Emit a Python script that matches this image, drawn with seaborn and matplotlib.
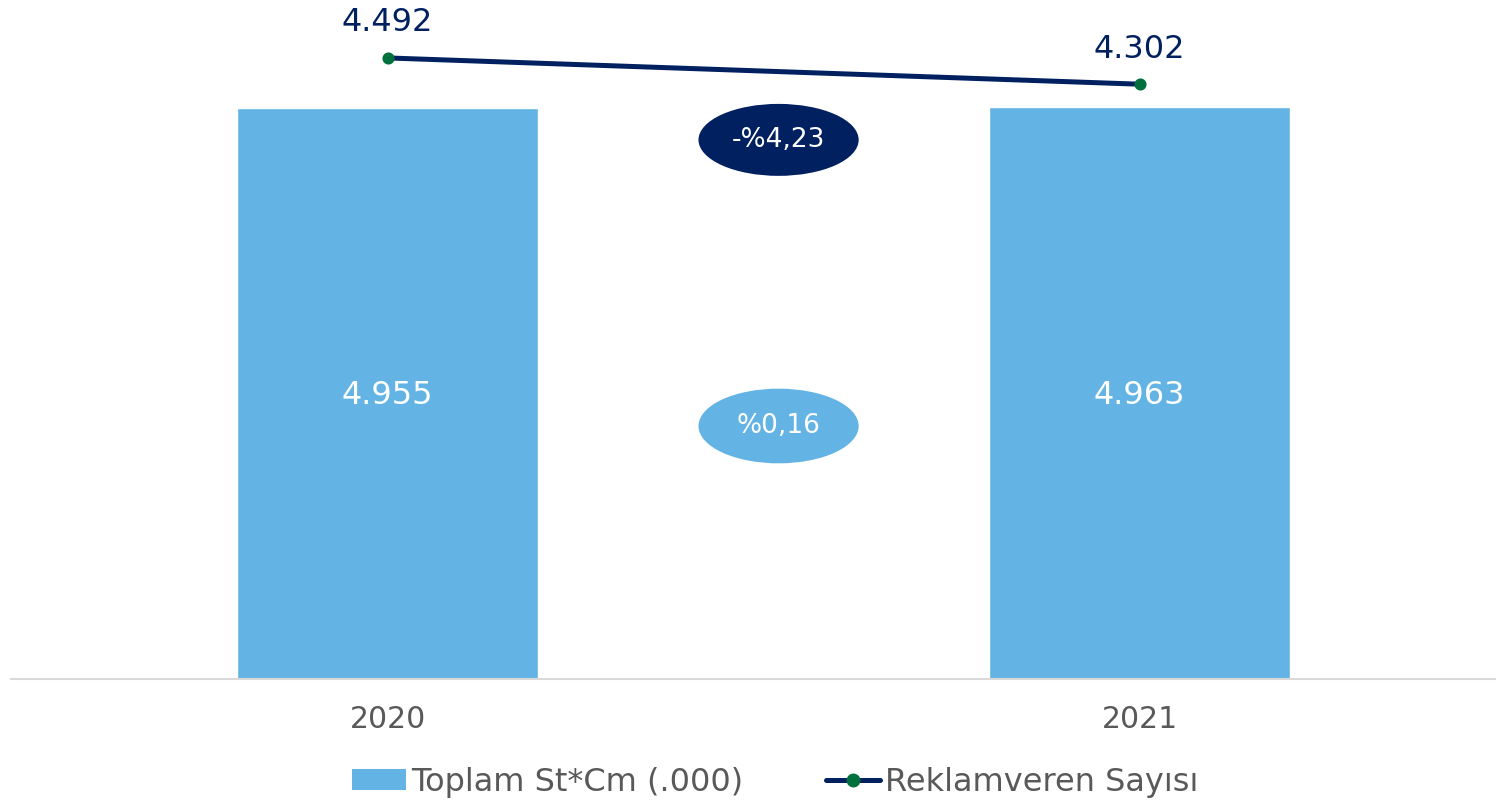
import matplotlib
matplotlib.use('Agg')
import matplotlib.pyplot as plt
import matplotlib.transforms as mtransforms
from matplotlib.patches import Ellipse, Patch
from matplotlib.lines import Line2D
import pandas as pd
import seaborn as sns

years = ['2020', '2021']
toplam_stcm = [4955, 4963]
reklamveren = [4492, 4302]
bar_labels = ['4.955', '4.963']
line_labels = ['4.492', '4.302']
change_reklamveren = '-%4,23'
change_stcm = '%0,16'

bar_color = '#63B4E4'
navy = '#002060'
green = '#00703C'
grey_text = '#595959'

sns.set_theme(style='white')
plt.rcParams['font.family'] = ['DejaVu Sans']

df = pd.DataFrame({'Yil': years, 'Toplam': toplam_stcm, 'Reklamveren': reklamveren})

fig = plt.figure(figsize=(14.96, 8.05), dpi=100)
ax = fig.add_axes([11 / 1496, 126 / 805, 1485 / 1496, 679 / 805])

sns.barplot(data=df, x='Yil', y='Toplam', color=bar_color, width=0.4,
            saturation=1, ax=ax)
ax.set_ylim(0, 5892)

ax2 = ax.twinx()
sns.pointplot(data=df, x='Yil', y='Reklamveren', color=navy, markers='o',
              linewidth=3.6, markersize=6, ax=ax2)
for ln in ax2.lines:
    ln.set_markerfacecolor(green)
    ln.set_markeredgecolor(green)
ax2.set_ylim(0, 4911)
ax.set_xlim(-0.5007, 1.474)

for i, lbl in enumerate(bar_labels):
    ax.text(i, toplam_stcm[i] / 2 - 20, lbl, ha='center', va='center',
            color='white', fontsize=23)
for i, lbl in enumerate(line_labels):
    ax2.annotate(lbl, (i, reklamveren[i]), xytext=(0, 14), textcoords='offset points',
                 ha='center', va='bottom', color=navy, fontsize=23)

trans = mtransforms.blended_transform_factory(ax.transData, ax.transAxes)
ax.add_patch(Ellipse((0.52, 0.794), 0.213, 0.106, transform=trans,
                     facecolor=navy, edgecolor='none', zorder=5))
ax.text(0.52, 0.794, change_reklamveren, transform=trans, ha='center', va='center',
        color='white', fontsize=19, zorder=6)
ax.add_patch(Ellipse((0.52, 0.3726), 0.213, 0.11, transform=trans,
                     facecolor=bar_color, edgecolor='none', zorder=5))
ax.text(0.52, 0.3726, change_stcm, transform=trans, ha='center', va='center',
        color='white', fontsize=19, zorder=6)

for a in (ax, ax2):
    for side in ('top', 'right', 'left'):
        a.spines[side].set_visible(False)
    a.set_ylabel('')
    a.set_yticks([])
ax2.spines['bottom'].set_visible(False)
ax.spines['bottom'].set_color('#D9D9D9')
ax.spines['bottom'].set_linewidth(1.5)
ax.set_xlabel('')
ax.tick_params(axis='x', length=0, pad=19, labelsize=21.5, labelcolor=grey_text)

handles = [Patch(facecolor=bar_color, edgecolor='none'),
           Line2D([0], [0], color=navy, lw=3.6, marker='o', markersize=9,
                  markerfacecolor=green, markeredgecolor=green)]
fig.legend(handles, ['Toplam St*Cm (.000)', 'Reklamveren Sayısı'],
           loc='center', bbox_to_anchor=(775 / 1496, 1 - 782 / 805), ncol=2,
           frameon=False, fontsize=23, labelcolor=grey_text, handlelength=1.7,
           handletextpad=0.15, columnspacing=2.6, handleheight=0.65)

fig.savefig('out.png', dpi=100)
